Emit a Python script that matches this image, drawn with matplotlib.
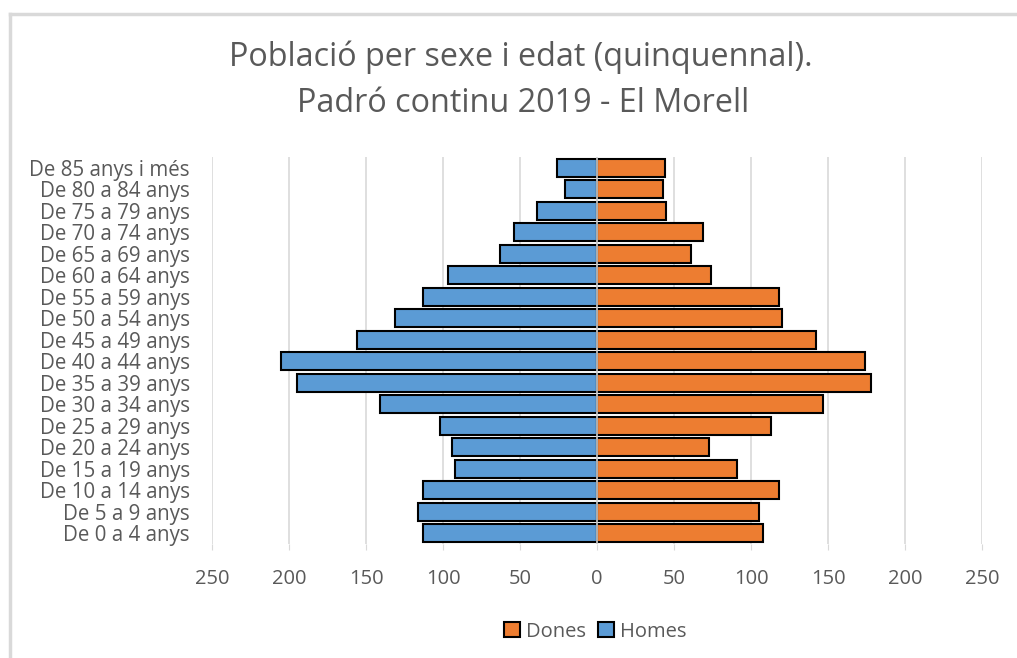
import matplotlib.pyplot as plt
from matplotlib.lines import Line2D
from matplotlib.patches import Patch

# Age groups (bottom to top)
groups = ['De 0 a 4 anys', 'De 5 a 9 anys', 'De 10 a 14 anys', 'De 15 a 19 anys',
          'De 20 a 24 anys', 'De 25 a 29 anys', 'De 30 a 34 anys', 'De 35 a 39 anys',
          'De 40 a 44 anys', 'De 45 a 49 anys', 'De 50 a 54 anys', 'De 55 a 59 anys',
          'De 60 a 64 anys', 'De 65 a 69 anys', 'De 70 a 74 anys', 'De 75 a 79 anys',
          'De 80 a 84 anys', 'De 85 anys i més']
homes = [113, 116, 113, 92, 94, 102, 141, 195, 205, 156, 131, 113, 97, 63, 54, 39, 21, 26]
dones = [108, 105, 118, 91, 73, 113, 147, 178, 174, 142, 120, 118, 74, 61, 69, 45, 43, 44]
xticks = [-250, -200, -150, -100, -50, 0, 50, 100, 150, 200, 250]

plt.rcParams['font.family'] = ['Open Sans', 'DejaVu Sans']
txt = '#595959'
grid = '#d9d9d9'

fig = plt.figure(figsize=(10.17, 6.58), dpi=100)
ax = fig.add_axes([0.2085, 0.1733, 0.7571, 0.588])

y = list(range(len(groups)))
ax.barh(y, [-v for v in homes], height=0.84, color='#5B9BD5', edgecolor='black',
        linewidth=1.5, zorder=3)
ax.barh(y, dones, height=0.84, color='#ED7D31', edgecolor='black',
        linewidth=1.5, zorder=3)
ax.axvline(0, color='#d0d0d0', linewidth=1.2, zorder=4)

ax.set_xlim(-250, 250)
ax.set_ylim(-0.5, len(groups) - 0.5)
ax.set_xticks(xticks)
ax.set_xticklabels([str(abs(v)) for v in xticks])
ax.set_yticks(y)
ax.set_yticklabels(groups)
ax.grid(axis='x', color=grid, linewidth=1.2, zorder=0)
for s in ax.spines.values():
    s.set_visible(False)
ax.tick_params(axis='x', length=4, color=grid, labelsize=14.5, labelcolor=txt, pad=14)
ax.tick_params(axis='y', length=0, labelsize=14.8, labelcolor=txt, pad=16)

fig.text(0.512, 0.913, 'Població per sexe i edat (quinquennal).', ha='center', va='center',
         fontsize=23.3, color=txt)
fig.text(0.514, 0.843, 'Padró continu 2019 - El Morell', ha='center', va='center',
         fontsize=23.3, color=txt)

handles = [Patch(facecolor='#ED7D31', edgecolor='black', linewidth=1.5, label='Dones'),
           Patch(facecolor='#5B9BD5', edgecolor='black', linewidth=1.5, label='Homes')]
fig.legend(handles=handles, loc='center', bbox_to_anchor=(0.585, 0.04), ncol=2,
           frameon=False, fontsize=14.5, labelcolor=txt, handlelength=0.8,
           handleheight=0.8, handletextpad=0.3, columnspacing=0.6)

# chart border
x0 = 9.5 / 1017
y0 = 1 - 13.5 / 658
fig.add_artist(Line2D([x0, 1], [y0, y0], color=grid, linewidth=2.5, transform=fig.transFigure))
fig.add_artist(Line2D([x0, x0], [0, y0], color=grid, linewidth=2.5, transform=fig.transFigure))

fig.savefig('out.png', dpi=100)
